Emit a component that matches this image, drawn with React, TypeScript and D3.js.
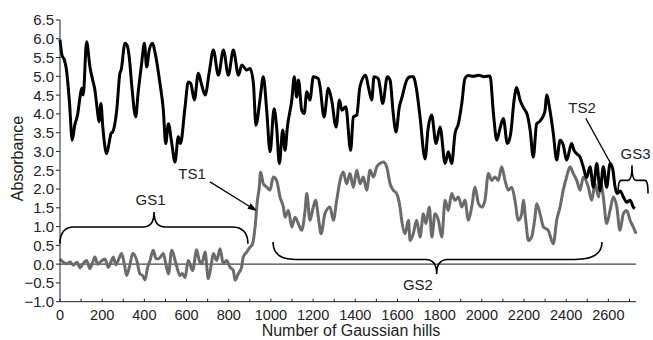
import React from "react";
import * as d3 from "d3";

// ---- Data ----
const blackHills = [0,10,20,30,45,58,70,84,95,103,110,126,142,155,166,177,185,194,203,221,232,242,250,269,284,290,308,318,329,340,359,370,387,400,411,423,439,450,474,490,501,514,530,545,561,571,593,608,620,637,656,670,688,708,727,751,775,798,822,846,862,885,901,917,929,948,964,980,996,1015,1027,1040,1056,1067,1078,1099,1111,1122,1131,1146,1158,1170,1185,1201,1225,1233,1252,1272,1288,1309,1325,1336,1355,1378,1391,1407,1422,1449,1462,1478,1489,1509,1517,1530,1552,1565,1580,1593,1609,1620,1644,1660,1675,1691,1707,1731,1745,1762,1783,1802,1826,1841,1857,1873,1889,1905,1920,1936,1960,1985,2010,2039,2055,2071,2086,2102,2121,2137,2153,2165,2181,2200,2216,2229,2244,2260,2273,2289,2300,2307,2323,2339,2355,2371,2386,2402,2426,2437,2450,2466,2481,2497,2513,2529,2545,2561,2576,2592,2608,2620,2632,2642,2656,2671,2687,2703,2718,2726];
const blackAbs = [5.98,5.55,5.45,5.2,4.3,3.30,3.7,4.0,4.45,4.68,4.5,5.92,5.25,4.9,4.62,4.1,3.79,4.28,3.65,2.94,3.2,3.48,3.52,4.1,5.08,5.17,5.88,5.83,5.48,4.77,3.92,4.54,5.34,5.88,5.25,5.7,5.88,5.65,4.81,4.1,3.21,3.74,3.21,2.72,3.39,3.21,4.19,4.85,4.81,4.37,5.08,4.81,4.5,5.12,5.70,5.03,5.70,5.03,5.70,5.03,5.30,5.17,5.21,4.81,3.70,4.37,4.99,4.10,2.99,4.14,3.65,2.68,3.57,3.03,3.65,4.37,4.99,4.45,4.90,4.10,4.01,4.59,4.37,4.99,4.94,4.72,3.92,4.68,4.37,3.65,4.37,4.10,4.19,3.03,3.92,3.97,4.72,5.03,4.72,4.37,4.99,4.94,4.72,4.28,4.99,4.90,4.01,3.52,4.19,4.41,4.90,4.99,4.99,4.63,3.92,2.80,3.6,3.97,3.21,3.65,2.68,2.99,2.68,3.48,3.74,4.28,4.94,5.02,5.00,5.03,4.99,5.01,4.01,3.30,3.61,3.88,3.21,3.48,4.37,4.70,4.37,4.14,3.97,3.57,2.85,3.74,3.79,3.92,4.1,4.50,4.10,3.48,2.77,3.30,3.17,2.77,3.21,3.03,2.94,2.85,2.59,2.30,2.59,2.05,2.68,1.95,2.59,2.05,2.68,2.55,2.05,1.88,1.95,1.79,1.65,1.70,1.52,1.48];

const greyHills = [0,16,32,48,63,80,95,110,126,142,155,166,178,190,213,229,241,253,265,276,292,305,316,330,345,364,379,391,403,415,427,442,455,466,478,490,502,514,530,550,569,580,593,608,629,648,660,672,688,703,716,727,743,759,774,790,806,822,830,845,861,869,885,901,913,925,936,945,951,964,980,996,1011,1027,1043,1059,1067,1083,1099,1114,1130,1146,1162,1170,1185,1201,1212,1225,1238,1256,1280,1296,1312,1328,1343,1359,1375,1391,1407,1423,1438,1454,1470,1486,1502,1517,1533,1549,1565,1580,1596,1612,1620,1636,1652,1660,1675,1691,1707,1723,1735,1751,1763,1778,1794,1810,1826,1841,1857,1873,1889,1905,1920,1936,1952,1968,1984,2000,2015,2031,2047,2063,2078,2094,2110,2126,2142,2157,2173,2189,2197,2208,2221,2236,2252,2260,2276,2292,2315,2339,2355,2371,2386,2402,2418,2434,2450,2466,2481,2505,2521,2537,2553,2561,2576,2592,2608,2624,2640,2655,2671,2687,2703,2718,2731];
const greyAbs = [0.14,0.05,0.01,0.06,-0.03,0.05,-0.10,0.02,0.10,-0.12,0.05,0.19,0.0,0.05,0.14,-0.08,0.05,0.19,-0.02,0.10,0.28,0.0,-0.30,-0.05,0.28,0.10,-0.26,-0.3,-0.42,-0.1,0.10,0.37,0.15,0.14,0.2,0.28,0.0,-0.26,0.37,0.01,-0.30,-0.25,-0.36,0.10,-0.17,0.38,0.1,0.01,0.32,-0.39,-0.05,0.28,0.10,0.41,0.01,0.10,-0.08,-0.17,-0.43,-0.26,-0.08,0.19,0.32,0.45,0.54,0.99,1.70,2.05,2.45,2.14,2.05,1.97,2.32,2.23,1.79,1.52,1.25,1.43,0.99,1.25,1.08,0.90,1.43,1.88,1.17,1.52,1.70,1.25,0.81,1.34,1.52,1.17,1.70,2.23,2.45,2.14,2.41,2.05,2.50,2.14,2.32,1.97,2.50,2.32,2.59,2.68,2.72,2.59,2.14,1.97,1.88,1.52,1.17,0.81,1.17,0.63,0.81,1.17,0.72,1.34,1.08,1.52,0.72,1.34,1.17,0.72,1.70,1.43,1.88,1.70,1.79,1.52,1.70,1.17,1.52,2.05,1.61,1.52,1.70,2.41,2.23,2.32,2.23,2.59,2.23,1.97,2.05,1.70,1.17,1.34,1.70,1.17,0.63,0.72,1.25,1.61,1.34,0.99,0.90,0.54,1.17,1.52,1.97,2.32,2.59,2.41,2.23,1.97,2.32,2.05,1.70,2.14,1.79,2.23,1.79,1.08,1.43,1.79,1.52,0.90,1.34,1.43,1.17,0.99,0.81];

const xTicks = [0,200,400,600,800,1000,1200,1400,1600,1800,2000,2200,2400,2600];
const yTicks = [-1.0,-0.5,0.0,0.5,1.0,1.5,2.0,2.5,3.0,3.5,4.0,4.5,5.0,5.5,6.0,6.5];

const W = 653, H = 340;
const FONT = "'Liberation Sans', Arial, Helvetica, sans-serif";

export default function App() {
  const x = d3.scaleLinear().domain([0, 2731]).range([60, 636]);
  const y = d3.scaleLinear().domain([-1, 6.5]).range([301.7, 20]);

  const line = d3.line<[number, number]>()
    .x(d => x(d[0]))
    .y(d => y(d[1]))
    .curve(d3.curveMonotoneX);

  const black = blackHills.map((h, i) => [h, blackAbs[i]] as [number, number]);
  const grey = greyHills.map((h, i) => [h, greyAbs[i]] as [number, number]);

  const brace = (v0: number, v1: number, vt: number, aLine: number, aTip: number, aEnd: number, r0: number, r1: number, rt: number) => {
    const x0 = x(v0), x1 = x(v1), xt = x(vt);
    const yl = y(aLine), yt = y(aTip), ye = y(aEnd);
    return `M${x0},${ye} Q${x0},${yl} ${x0 + r0},${yl} L${xt - rt},${yl} Q${xt},${yl} ${xt},${yt} Q${xt},${yl} ${xt + rt},${yl} L${x1 - r1},${yl} Q${x1},${yl} ${x1},${ye}`;
  };

  const minorX = d3.range(0, 2731, 100);

  const a1 = { x1: x(711), y1: y(2.19), x2: x(933), y2: y(1.42) };
  const ang = Math.atan2(a1.y2 - a1.y1, a1.x2 - a1.x1);
  const hl = 9, hw = 3.2;
  const head = [
    [a1.x2, a1.y2],
    [a1.x2 - hl * Math.cos(ang) + hw * Math.sin(ang), a1.y2 - hl * Math.sin(ang) - hw * Math.cos(ang)],
    [a1.x2 - hl * Math.cos(ang) - hw * Math.sin(ang), a1.y2 - hl * Math.sin(ang) + hw * Math.cos(ang)],
  ];

  return (
    <div style={{ position: "absolute", left: 0, top: 0 }}>
      <svg width={W} height={H} style={{ display: "block", background: "#fff" }} fontFamily={FONT}>
        <line x1={x(0)} x2={x(2731)} y1={y(0)} y2={y(0)} stroke="#444" strokeWidth={1.2} />
        <path d={line(grey) || ""} fill="none" stroke="#6b6b6b" strokeWidth={3} strokeLinejoin="round" />
        <path d={line(black) || ""} fill="none" stroke="#000" strokeWidth={3} strokeLinejoin="round" />

        <line x1={60} x2={60} y1={y(6.5)} y2={y(-1)} stroke="#222" strokeWidth={1} />
        <line x1={60} x2={x(2731)} y1={y(-1)} y2={y(-1)} stroke="#222" strokeWidth={1} />
        {yTicks.map(t => (
          <g key={"y" + t}>
            <line x1={56} x2={60} y1={y(t)} y2={y(t)} stroke="#222" />
            <text x={54} y={y(t)} dy="0.36em" textAnchor="end" fontSize={15} fill="#222">
              {(t < 0 ? "\u2212" : "") + Math.abs(t).toFixed(1)}
            </text>
          </g>
        ))}
        {minorX.map(t => (
          <line key={"xt" + t} x1={x(t)} x2={x(t)} y1={y(-1)} y2={y(-1) - 3} stroke="#222" />
        ))}
        {xTicks.map(t => (
          <text key={"x" + t} x={x(t)} y={320} textAnchor="middle" fontSize={14.5} fill="#222">{t}</text>
        ))}
        <text x={351} y={336} textAnchor="middle" fontSize={16} fill="#222">Number of Gaussian hills</text>
        <text transform={`translate(23,${158.5}) rotate(-90)`} textAnchor="middle" fontSize={16} fill="#222">Absorbance</text>

        <path d={brace(0, 891, 446, 0.99, 1.39, 0.54, 14, 16, 11)} fill="none" stroke="#000" strokeWidth={1.6} />
        <text x={x(429)} y={y(1.57)} textAnchor="middle" fontSize={15} fill="#222">GS1</text>

        <path d={brace(1010, 2570, 1786, 0.125, -0.26, 0.59, 22, 27, 11)} fill="none" stroke="#000" strokeWidth={1.6} />
        <text x={x(1697)} y={y(-0.69)} textAnchor="middle" fontSize={15} fill="#222">GS2</text>

        <path d={brace(2646, 2788, 2712, 2.23, 2.63, 1.88, 3, 3, 4)} fill="none" stroke="#000" strokeWidth={1.6} />
        <text x={x(2729)} y={y(2.81)} textAnchor="middle" fontSize={15} fill="#222">GS3</text>

        <text x={x(626)} y={y(2.26)} textAnchor="middle" fontSize={15} fill="#222">TS1</text>
        <line x1={a1.x1} y1={a1.y1} x2={a1.x2 - 6 * Math.cos(ang)} y2={a1.y2 - 6 * Math.sin(ang)} stroke="#000" strokeWidth={1.2} />
        <polygon points={head.map(p => p.join(",")).join(" ")} fill="#000" />

        <text x={x(2475)} y={y(4.02)} textAnchor="middle" fontSize={15} fill="#222">TS2</text>
        <line x1={x(2493)} y1={y(3.88)} x2={x(2616)} y2={y(2.63)} stroke="#000" strokeWidth={1.2} />
      </svg>
    </div>
  );
}
